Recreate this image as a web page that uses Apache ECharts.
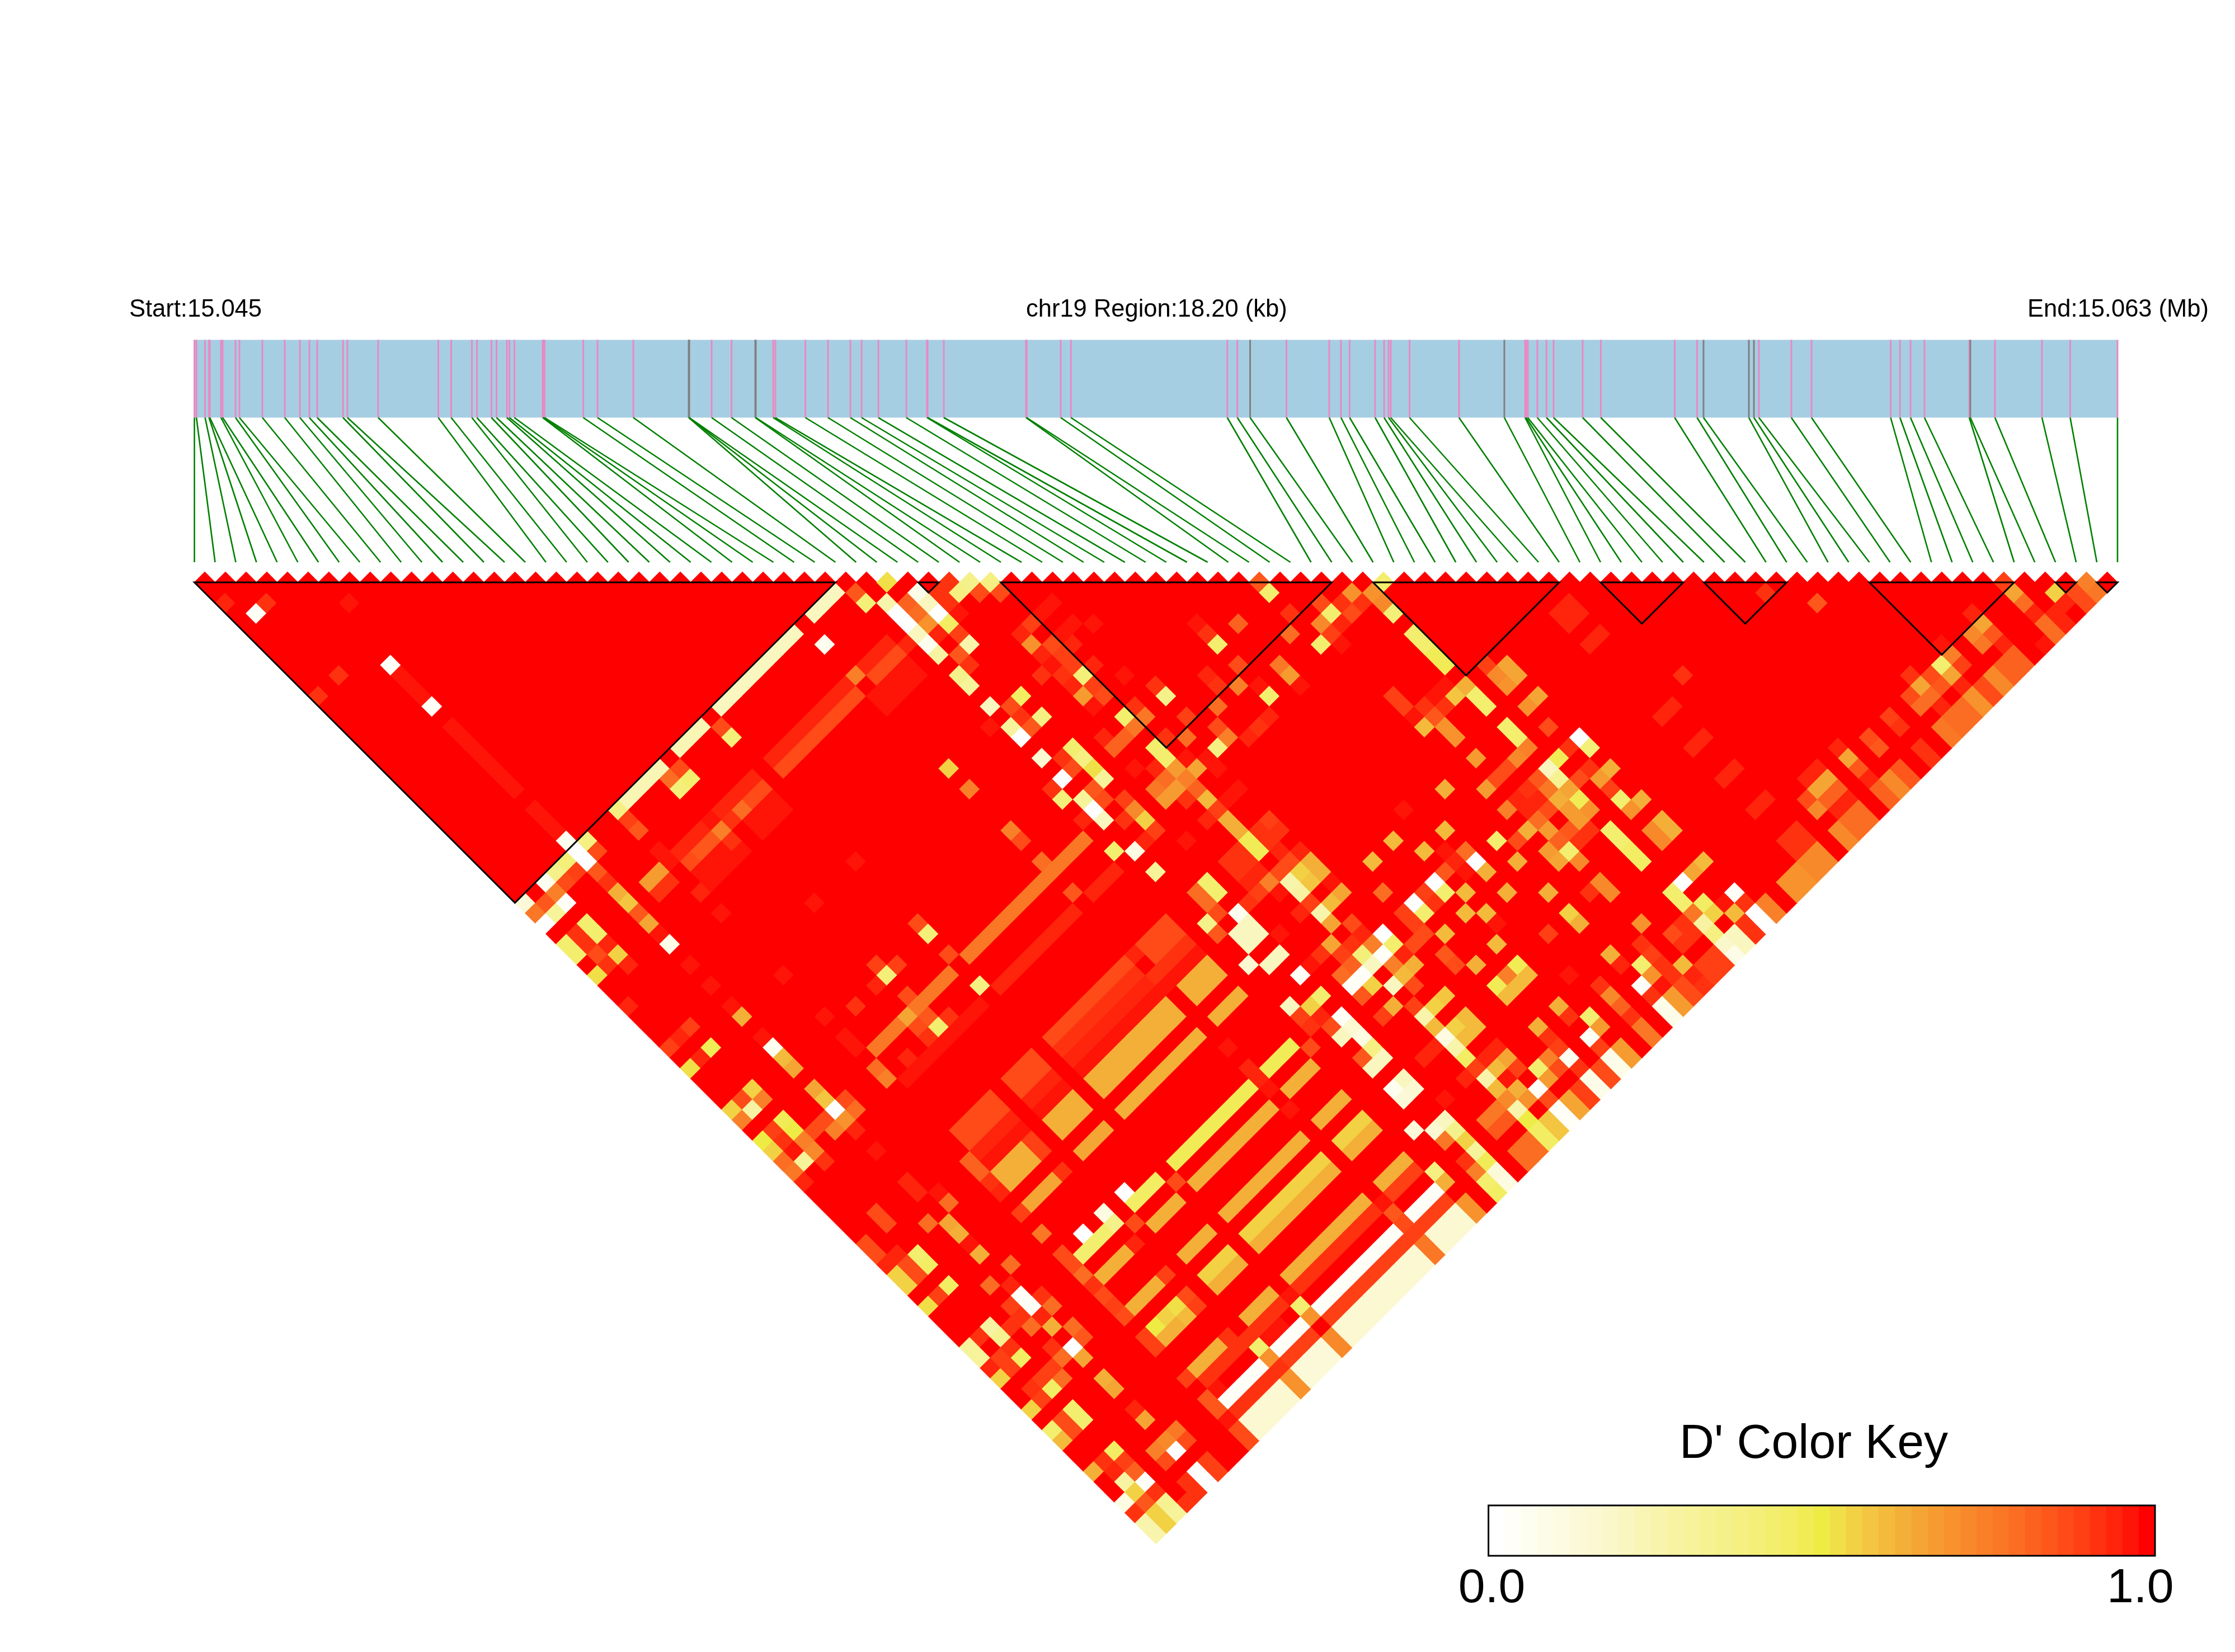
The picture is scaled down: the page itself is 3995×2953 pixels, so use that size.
<!DOCTYPE html>
<html><head><meta charset="utf-8"><style>html,body{margin:0;background:#fff}#c{width:3995px;height:2953px}</style>
<script src="https://cdn.jsdelivr.net/npm/echarts@6/dist/echarts.min.js"></script></head><body><div id="c"></div>
<script>
// SNP positions, kb from the region start
const snpKb=[0,.019,.101,.138,.146,.251,.267,.389,.426,.643,.855,.998,1.088,1.162,1.406,1.448,1.739,2.308,2.43,2.626,2.674,2.811,2.859,2.957,2.981,3.028,3.296,3.304,3.314,3.68,3.815,4.154,4.678,4.681,4.683,4.895,5.083,5.308,5.313,5.477,5.498,5.782,5.996,6.208,6.314,6.473,6.737,6.933,6.939,7.092,7.87,7.876,8.199,8.295,9.775,9.87,9.991,10.335,10.74,10.851,10.933,11.174,11.259,11.301,11.322,11.5,11.968,12.397,12.593,12.603,12.619,12.709,12.796,12.863,13.138,13.31,14.009,14.221,14.282,14.711,14.759,14.806,15.113,15.304,16.053,16.141,16.241,16.373,16.797,16.807,17.04,17.485,17.752,18.2];
const regionKb=18.2;
const greySnps=[32,33,34,37,38,56,67,78,79,80,89];
const blockStarts=[0,35,39,57,68,73,81,90,92];
const blockEnds=[31,36,55,66,72,77,88,91,93];
const headerTexts=["Start:15.045","chr19 Region:18.20 (kb)","End:15.063 (Mb)"];
const keyTitle="D' Color Key";
const keyLabels=["0.0","1.0"];
const keyColors=["#FFFFFF","#FFFFF8","#FEFEF0","#FDFCE8","#FDFBE1","#FCF9D9","#FBF8D2","#FAF7CA","#F9F6BF","#F9F5B5","#F8F4AC","#F7F3A3","#F7F39B","#F6F292","#F5F18A","#F5F081","#F4EF78","#F3EE6E","#F2ED63","#F1EC56","#EFEB45","#F0DF47","#F2D144","#F3C540","#F3BA3C","#F4AF38","#F5A534","#F69B30","#F7922D","#F8892A","#F98028","#FA7725","#FB6D22","#FC621F","#FD571C","#FE4B18","#FF3F14","#FF3210","#FF240C","#FF1408","#FF0000"];
// D' below 1: [iFrom,iTo,jFrom,jTo,value]; every other pair reads as 1
const weakRanges=[[28,30,32,32,.2],[19,26,32,32,.2],[15,17,32,32,.22],[10,13,32,32,.22],[19,30,37,37,.94],[19,30,38,38,.87],[27,30,39,40,.97],[15,17,37,37,.95],[15,17,39,40,.97],[10,13,39,40,.98],[19,30,56,56,.77],[10,17,56,56,.77],[19,26,59,59,.96],[28,30,59,59,.96],[10,17,59,59,.97],
[19,26,64,64,.88],[19,26,65,65,.93],[19,26,66,66,.95],[19,26,67,67,.97],[19,26,68,69,.63],[19,26,71,71,.63],[28,30,64,65,.88],[28,30,66,66,.93],[28,30,67,67,.97],[28,30,68,69,.63],[28,30,71,71,.63],[15,17,64,65,.88],[15,17,66,66,.95],[15,17,67,67,.97],[15,17,68,69,.63],[15,17,71,71,.65],[10,13,64,65,.88],[10,13,66,66,.95],[10,13,67,67,.97],[10,12,68,69,.63],[13,13,68,69,.9],[10,12,71,71,.65],
[19,26,76,76,.47],[28,30,76,76,.47],[10,12,76,76,.43],[15,17,76,76,.44],[19,26,78,78,.62],[28,30,78,78,.62],[15,17,78,78,.62],[10,12,78,78,.62],[19,26,81,81,.62],[28,30,81,81,.62],[15,17,81,81,.62],[10,12,81,81,.62],[19,26,83,83,.55],[28,30,83,83,.55],[15,17,83,83,.55],[19,26,84,84,.62],[28,30,84,84,.62],[15,17,84,84,.62],
[19,26,87,87,.62],[28,30,87,87,.62],[15,17,87,87,.62],[10,12,87,87,.62],[19,26,88,88,.92],[28,30,88,88,.9],[15,17,88,88,.92],[10,13,88,88,.92],[19,26,90,90,.03],[28,30,90,90,.03],[15,17,90,90,.03],[10,13,90,90,.03],[19,26,91,91,.9],[27,30,91,91,.9],[15,17,91,91,.9],[10,14,91,91,.92],[19,26,92,93,.14],[28,30,92,93,.14],[15,17,92,93,.13],[10,13,92,93,.14],[14,14,92,93,.7],[18,18,92,93,.72],[27,27,92,93,.77],[31,31,92,93,.7],[9,9,92,93,.87],[6,6,92,93,.9],[5,5,28,30,.97],[5,5,20,26,.98],[5,5,15,17,.97],[64,65,68,69,.94],[64,65,71,71,.95],[64,65,78,78,.94],[64,65,81,81,.94],[64,65,84,84,.94],[64,65,87,87,.94]];
const weakCells=[[1,5,.03],[0,3,.95],[2,5,.93],[6,9,.97],[5,14,.03],[5,18,.03],[2,12,.93],[0,12,.93],
[33,34,.52],[36,37,.93],[37,38,.36],[38,39,.37],[51,52,.85],[57,58,.42],[87,88,.9],[91,92,.75],
[31,33,.85],[34,36,.07],[36,38,.37],[37,39,.88],[38,40,.87],[31,34,.4],[34,37,.2],[34,38,0],[34,39,.45],[34,40,.9],[34,41,.25],[35,37,.93],[35,38,.93],[35,39,.98],[33,36,.82],[33,37,.8],[33,38,.7],[33,39,.95],[33,41,.85],[33,42,.92],[32,35,.25],[32,36,0],[32,37,0],[32,38,.2],[32,39,.05],[32,40,.28],[32,42,.35],[32,43,.3],[31,38,.95],
[9,32,.37],[9,33,.9],[9,34,.85],[6,32,.38],[5,31,.05],[5,32,0],[5,33,0],[6,33,.88],[5,34,.85],[5,35,.93],[5,36,.62],[5,37,.58],[5,38,.85],[5,39,.65],[5,40,.97],[5,41,.08],[4,33,.9],[4,32,.4],[3,32,.35],[2,32,.05],[2,33,.75],[3,33,.88],[2,34,.03],[1,34,.3],[1,33,.85],[0,32,.12],[0,33,.78],[0,34,0],[0,36,.42],[0,37,.42],[1,36,.93],[2,36,.42],[2,37,.42],[1,37,.93],[1,38,.88],[2,38,.95],[2,39,.55],[2,40,.95],[1,39,.93],[0,39,.52],[5,26,.98],
[27,34,.05],[18,33,.88],[18,34,.4],[14,33,.88],[13,33,.8],[14,34,.42],[13,34,.4],[9,36,.97],[9,37,.97],[8,37,.68],[7,37,.68],[8,38,.93],[7,38,.93],[9,40,.96],[9,42,.98],[27,37,.75],[27,38,1],[31,38,.95],[17,38,.87],[16,38,.87],[15,38,.8],[14,38,.93],[14,37,.95],[13,38,.75],[13,37,.97],[12,37,.95],[11,37,.95],[10,37,.95],[12,38,.85],[11,38,.85],[10,38,.87],[13,39,.93],
[27,46,.55],[27,48,.75],[31,46,.98],[32,45,.2],[34,46,.45],[33,46,.87],[32,47,.3],[32,48,0],[33,48,.85],[34,48,.38],[33,47,.93],[32,50,.15],[34,51,.42],[34,52,.38],[34,53,.53],[33,51,.93],[33,52,.87],[32,52,0],[31,52,.93],[31,53,.4],[32,54,.3],[32,55,0],[32,56,.2],[31,55,.95],[34,54,.3],[33,54,.85],[33,55,.87],[31,58,.42],[27,52,.75],[27,53,.87],[27,55,.8],[27,58,.85],[18,55,.88],[18,52,.87],[18,53,.4],[18,58,.38],[14,52,.9],[15,53,.9],[14,53,.4],[13,53,.95],[14,55,.87],[18,46,.985],[14,46,.985],[5,43,.98],[5,45,.98],[9,48,.98],[0,42,.95],[5,47,.98],[11,53,.92],
[40,43,.97],[39,43,.97],[38,43,.9],[37,43,.95],[37,44,.7],[37,45,.96],[38,45,.88],[39,45,.97],[40,45,.98],[41,46,.98],[39,46,.95],[38,46,.9],[38,47,.9],[39,48,.95],[37,46,.97],[36,46,.93],[37,47,.93],[38,48,.4],[37,48,.95],[37,49,.68],[37,50,.97],[38,50,.87],[38,49,.9],[35,47,.99],[36,52,.95],[36,53,.82],
[51,53,.42],[55,57,.7],[56,58,.7],[54,57,.93],[55,58,.93],[56,59,.72],[53,56,.88],[53,57,.43],[54,58,.87],[56,60,.4],[51,55,.93],[48,53,.82],[52,57,.72],[53,58,.96],[46,51,.98],[50,56,.8],[52,58,.9],[46,52,.92],[46,53,.42],[51,58,.42],[52,59,.97],[56,62,.42],[56,63,.42],[56,64,.47],[56,65,.47],
[58,67,.9],[59,68,.65],[59,69,.65],[58,68,.72],[58,69,.7],[56,67,.62],[55,67,.58],[56,68,.42],[56,69,.42],[55,66,.97],[54,66,.97],[54,67,.93],[53,66,.92],[53,67,.85],[52,66,.97],[52,64,.9],[52,65,.9],[52,67,.6],[53,68,.7],[53,69,.7],[59,71,.65],[58,71,.7],[56,71,.42],[56,72,.42],[56,73,.75],[55,73,.72],[54,73,.87],[53,73,.87],[52,73,.68],[58,73,.88],[59,75,0],[59,76,.4],[58,75,.93],[57,75,.48],[56,75,.2],[56,76,.33],[56,77,.65],[56,78,.47],[56,79,.7],[58,77,.93],[57,77,.88],[59,78,.62],[58,78,.68],[58,79,.9],[58,80,.42],[59,81,.62],[58,81,.7],[55,75,.85],[54,75,.92],[53,75,.95],[55,76,.78],[53,76,.95],[54,76,.95],[54,77,.87],[55,77,.62],[55,78,.68],[52,75,.75],[52,77,.62],[53,77,.8],[53,78,.68],[55,79,.68],[54,79,.85],[53,79,.82],[54,80,.92],[55,80,.93],[52,79,.68],[53,80,.42],[52,80,.65],[53,81,.72],[56,81,.42],[56,82,.42],[56,83,.46],[56,84,.46],[58,83,.72],[59,83,.63],[58,84,.72],[59,84,.63],[50,78,.62],[50,76,.42],[51,77,.87],
[48,75,.8],[48,76,0],[48,77,.62],[47,75,.95],[47,74,.97],[47,76,.97],[46,75,.85],[48,73,.6],[46,73,.6],[45,71,.6],[43,71,.6],[47,70,.98],[50,71,.62],[53,71,.68],[45,75,0],[45,76,.42],[46,77,.6],[44,75,.9],[44,76,.93],[43,75,0],[43,76,.43],[42,73,.8],[42,75,.9],[42,76,.9],[42,77,.87],[43,78,.6],[42,79,.85],[42,80,.88],[45,78,.6],[46,79,.6],[46,80,.97],[45,81,.6],[43,81,.62],[48,79,.62],[50,81,.62],[50,83,.55],[50,84,.62],[53,83,.72],[52,83,.92],[53,84,.72],[53,87,.7],[48,83,.9],[47,86,.98],[50,87,.62],[50,88,.95],[52,88,.93],[52,89,.9],[51,89,.42],[51,90,.7],[50,90,.02],[48,88,.93],[48,89,.72],[48,90,.82],[48,91,.93],[50,91,.92],[45,83,.47],[44,83,.75],[45,84,.6],[44,84,.6],[43,83,.48],[43,84,.6],
[40,50,.97],[41,52,.92],[41,53,.35],[39,52,.93],[38,52,.42],[39,53,.78],[38,53,.78],[37,53,.82],[39,55,.93],[41,55,.9],[40,56,.8],[38,55,.42],[38,56,.43],[36,55,.97],[37,56,.95],[38,57,.68],[39,58,.65],[39,57,.97],[40,59,.97],[40,58,.97],[42,58,.75],[41,58,.38],[42,57,.88],[43,59,.96],[44,59,.93],[45,59,.96],[43,56,.8],[45,56,.75],[44,55,.93],[44,54,.95],[46,55,.88],[46,57,.97],[46,58,.42],[48,57,.78],[48,58,.68],[48,59,.97],[50,59,.99],[37,57,.8],[36,57,.78],[37,58,.68],[36,58,.68],[38,58,.75],[38,59,.82],[37,59,.93],[38,60,.6],[40,61,.97],[39,61,.97],[38,61,.9],[37,61,.95],[34,56,.9],[34,57,.72],[34,58,.55],[34,59,.9],[33,57,.92],[33,59,.95],[32,59,.1],[32,61,.3],[35,61,.98],
[38,62,.62],[38,63,.62],[38,64,.47],[38,65,.48],[40,64,.9],[40,65,.93],[39,64,.93],[39,65,.92],[40,67,.95],[40,68,.62],[40,69,.62],[39,67,.88],[39,68,.55],[39,69,.58],[39,66,.95],[37,64,.93],[36,64,.93],[37,65,.93],[36,65,.93],[37,66,.95],[36,66,.95],[37,67,.75],[38,67,.88],[38,68,.25],[38,69,.27],[37,68,.97],[40,71,.65],[40,70,.97],[39,71,.6],[38,70,.9],[38,71,.25],[37,70,.95],[38,72,.65],[39,73,.87],[34,64,.42],[34,65,.42],[33,64,.8],[33,65,.8],[33,66,.88],[32,66,.35],[32,67,.85],[34,67,.05],[34,68,.2],[34,69,.2],[33,68,.2],[33,69,.2],[35,70,.97],[36,67,.9],[35,67,.92],[32,70,.15],[34,71,.2],[33,71,.2],[34,73,.03],[36,73,.92],[37,73,.65],[37,74,.9],[37,75,.82],[38,75,.4],[39,75,.75],[40,75,0],[40,76,.42],[39,76,.03],[38,76,.2],[37,76,.02],[36,76,.02],[37,77,.55],[39,77,.75],[40,77,.95],[41,77,.88],[40,78,.62],[39,78,.6],[38,78,.2],[39,79,.88],[38,74,.92],[39,74,.95],[35,73,.98],[34,75,.42],[36,75,.8],[36,77,.85],[40,81,.58],
[0,90,.1],[0,91,.93],[0,92,.25],[0,93,.25],[1,93,.55],[1,92,.55],[2,93,.3],[2,92,.33],[2,91,.92],[1,91,.85],[1,90,.55],[1,89,.28],[2,90,.03],[2,89,.82],[2,88,.9],[4,92,.92],[4,93,.92],[3,93,.92],[5,92,0],[5,93,0],[5,90,0],[5,89,.72],[4,89,.75],[4,90,.88],[6,90,.88],[6,89,.78],[5,87,.65],[5,86,.95],[14,89,.42],[14,90,.7],[15,89,.97],[16,89,.97],[18,89,.42],[18,90,.7],[18,88,.98],[14,88,.92],[9,87,.9],[13,87,.92],[10,89,.98],[9,89,.85],[9,90,.85],[27,89,.85],[27,90,.88],[27,88,.97],[31,90,.62],[31,89,.38],[31,77,.87],[27,73,.97],[27,75,.95],[27,76,.95],[27,77,.97],[27,79,.97],[18,77,.87],[17,78,.62],[14,77,.88],[13,78,.95],[13,81,.9],[9,81,.88],[13,83,.87],[13,84,.9],[12,83,.52],[11,83,.55],[10,83,.5],[12,84,.6],[11,84,.62],[10,84,.62],[9,83,.9],[9,84,.9],
[33,83,.05],[34,83,.2],[33,84,.12],[34,84,.15],[35,86,.97],[32,86,.12],[33,87,.15],[34,87,.2],[34,88,.35],[34,89,.55],[34,90,.3],[34,91,.48],[34,92,.12],[34,93,.1],[33,88,.78],[33,90,.92],[33,91,.75],[33,92,.42],[33,93,.45],[36,92,.8],[37,92,.8],[36,93,.8],[37,93,.8],[38,93,.45],[38,92,.45],[38,91,.5],[38,90,.25],[39,93,.57],[39,92,.57],[40,93,.03],[40,92,.03],[40,91,.88],[41,93,.65],[41,92,.65],[42,93,.9],[42,92,.9],[42,89,.75],[43,93,.08],[43,92,.08],[44,93,.87],[44,92,.87],[45,93,.08],[45,92,.08],[46,93,.68],[46,92,.68],[48,92,.77],[48,93,.77],[50,92,.07],[50,93,.07],[51,92,.68],[51,93,.68],[52,92,.88],[52,93,.88],
[32,74,.2],[32,75,.9],[33,75,.55],[32,76,.93],[33,76,.95],[33,77,.88],[34,77,.03],[34,78,.15],[33,78,.2],[34,79,.1],[34,80,.38],[34,81,.2],[33,81,.2],[33,80,.85],[37,79,.62],[38,81,.25],[38,80,.9],[36,79,.9],[39,81,.55],[38,82,.6],[38,83,.1],[38,84,.25],[38,85,.45],[39,83,.55],[40,83,.6],[40,84,.6],[39,84,.6],[36,83,.95],[37,83,.95],[37,86,.95],[38,87,.25],[38,88,.6],[38,86,.9],[40,86,.95],[39,86,.95],[40,87,.65],[39,87,.6],[40,88,.9],[39,88,.97],[39,89,.62],[36,89,.78],[37,89,.78],[38,89,.72],[36,90,.85],[37,90,.85],[39,90,.7],[40,90,.02],[41,90,.68],[41,89,.42],[42,90,.88],[43,90,.05],[43,89,.9],[43,91,.92],[45,87,.62],[45,88,.92],[43,87,.62],[43,88,.92],[46,89,.42],[46,90,.68],[45,90,.02],[45,91,.9],
[77,80,.85],[75,77,.93],[67,77,.93],[87,89,.65],[87,90,.8],[87,91,.95],[89,91,.55],[89,92,.95],[90,92,.87],[90,93,.87],[91,93,.78],[88,92,.95],[88,93,.95],[87,92,.8],[87,93,.8],[86,93,.98],[84,88,.95],[84,89,.65],[83,89,.72],[84,90,.85],[83,90,.78],[84,91,.95],[84,92,.82],[84,93,.82],[83,92,.82],[83,93,.82],[82,92,.72],[82,93,.72],[81,92,.88],[81,93,.88],[81,90,.9],[81,89,.75],[81,88,.97],[80,89,.42],[80,90,.65],[80,91,.95],[79,89,.87],[79,90,.85],[78,89,.65],[78,88,.93],[77,89,.87],[77,90,.8],[78,90,.8],[78,91,.95],[80,92,.7],[80,93,.7],[79,92,.8],[79,93,.8],[78,92,.8],[78,93,.8],[77,92,.77],[77,93,.77],[75,89,.9],[75,90,.93],[73,89,.87],[73,90,.85],[75,92,.93],[75,93,.93],[71,88,.95],[71,89,.65],[71,90,.85],[71,91,.95],[73,92,.85],[73,93,.85],[72,92,.72],[72,93,.72],[71,92,.82],[71,93,.82],[69,88,.95],[69,89,.65],[68,88,.95],[68,89,.65],[69,90,.82],[68,90,.82],[69,91,.95],[68,91,.95],[69,92,.8],[68,92,.8],[69,93,.8],[68,93,.8],[67,89,.87],[67,90,.72],[67,92,.72],[67,93,.72],[65,90,.93],[64,90,.93],[65,91,.93],[64,91,.93],[65,92,.72],[64,92,.72],[65,93,.72],[64,93,.72],[63,92,.7],[62,92,.7],[63,93,.7],[62,93,.7],[60,92,.75],[60,93,.75],[59,92,0],[59,93,0],[58,92,.93],[58,93,.93],[59,91,.93],[58,91,.6],[59,90,.03],[57,92,.2],[56,92,.17],[57,93,.2],[56,93,.08],[56,90,.28],[56,91,.38],[56,89,.78],[57,89,.45],[57,90,.55],[56,88,.42],[56,87,.42],[57,87,0],[58,87,.65],[59,87,.6],[58,90,.98],[53,91,.6],[54,89,.87],[54,90,.93],[55,89,.92],[55,90,.93],[55,92,.9],[54,92,.9],[55,93,.9],[54,93,.9],[53,92,.95],[53,93,.92],[51,91,.98],[52,91,.92],[52,90,.92],
[0,46,.9],[2,46,.9],[1,46,.95],[2,48,.48],[1,48,.95],[0,48,.52],[5,48,.62],[5,50,.98],[5,51,.05],[5,52,.6],[5,53,.65],[9,52,.97],[14,58,.42],[14,57,.85],[13,57,.87],[13,58,.93],[15,58,.92],[13,56,.65],[9,54,.98],[9,55,.97],[9,57,.8],[9,58,.75],[11,58,.95],
[2,52,.55],[1,52,.88],[0,52,.55],[2,53,.75],[1,53,.28],[0,53,.75],[2,55,.48],[2,56,.5],[1,55,.9],[1,56,.92],[0,55,.5],[0,56,.55],[2,57,.75],[1,57,.97],[2,58,.72],[1,58,.3],[2,59,.93],[0,57,.8],[0,58,.78],[0,59,.95],[5,55,.65],[5,56,.57],[5,57,0],[5,58,.7],[6,58,.8],[6,57,.87],[5,59,.95],[4,58,.75],[4,57,.87],[3,57,.88],[5,61,.97],[5,64,.95],[5,65,.95],[6,66,.97],[6,67,.8],[4,67,.8],[5,68,.65],[5,69,.63],[5,70,.97],[5,71,.62],[2,64,.88],[2,65,.88],[0,65,.87],[0,66,.87],[1,67,.95],[0,67,.95],[2,68,.42],[2,69,.45],[1,68,.88],[1,69,.88],[0,68,.55],[0,69,.55],[2,71,.45],[1,71,.9],[0,71,.52],[6,73,.8],[4,73,.8],[5,74,.95],[5,75,.02],[5,76,.03],[4,75,.9],[4,76,.92],[4,77,.8],[6,76,.92],[6,77,.8],[5,77,.95],[5,78,.62],[6,79,.8],[6,80,.85],[4,80,.8],[5,80,0],[5,81,.65],[4,79,.93],[2,75,.28],[2,76,.32],[1,75,.93],[3,76,.93],[2,78,.45],[2,77,.92],[1,77,.9],[1,78,.9],[0,75,.3],[0,76,.3],[0,77,.95],[0,78,.55],[3,81,.8],[3,80,.9],[2,80,.9],[1,80,.93],[2,81,.45],[1,81,.9],[0,81,.55],[2,83,.42],[2,84,.42],[1,83,.87],[1,84,.87],[0,83,.42],[0,84,.6],[5,83,.62],[5,84,.65],[2,87,.45],[1,87,.92],[0,87,.62],[1,88,.95],
[9,66,.82],[9,67,.82],[9,68,.92],[9,69,.95],[13,71,.92],[9,71,.9],[9,73,.77],[15,75,0],[13,75,.1],[13,76,.35],[11,75,0],[9,75,.87],[9,76,.88],[9,77,.8],[9,78,.92],[9,79,.88],[9,80,.9],[9,91,.98],[27,64,.96],[27,66,.93],[27,67,.97]];

const N=snpKb.length;
const dPrime=[];
for(let i=0;i<N;i++){dPrime.push(new Array(N).fill(1));}
weakRanges.forEach(r=>{for(let i=r[0];i<=r[1];i++)for(let j=r[2];j<=r[3];j++)dPrime[i][j]=r[4];});
weakCells.forEach(c=>{dPrime[c[0]][c[1]]=c[2];});
const cellData=[];
for(let i=0;i<N;i++)for(let j=i+1;j<N;j++)cellData.push([i,j,dPrime[i][j]]);
const colorOf=v=>keyColors[Math.round(v*(keyColors.length-1))];

// depth coordinates of the track, in cell units below the diamond row
const BAR_TOP=-11.729,BAR_BOTTOM=-7.968,LINK_END=-0.974,DEPTH_MAX=47;

const chart=echarts.init(document.getElementById('c'),null,{renderer:'canvas'});
const axisOff={show:false};
const headStyle={fontFamily:'Liberation Sans',fontSize:43.5,fontWeight:'normal',color:'#000'};
chart.setOption({
 animation:false,backgroundColor:'#fff',
 title:[
  {text:headerTexts[0],left:231,top:532,padding:0,textStyle:headStyle},
  {text:headerTexts[1],left:1834,top:532,padding:0,textStyle:headStyle},
  {text:headerTexts[2],left:3624,top:532,padding:0,textStyle:headStyle},
  {text:keyTitle,left:3002,top:2539,padding:0,textStyle:{fontFamily:'Liberation Sans',fontSize:86,fontWeight:'normal',color:'#000'}}
 ],
 grid:[
  {left:347.5,width:3437.5,top:607.5,height:(DEPTH_MAX-BAR_TOP)*36.96},
  {left:2660.6,width:1191.4,top:2691,height:90}
 ],
 xAxis:[
  {gridIndex:0,type:'value',min:0,max:N-1,...axisOff},
  {gridIndex:0,type:'value',min:0,max:regionKb,...axisOff},
  {gridIndex:1,type:'value',min:0,max:1,axisLine:{show:false},axisTick:{show:false},splitLine:{show:false},
   axisLabel:{show:true,customValues:[0.005,0.978],margin:16,fontFamily:'Liberation Sans',fontSize:86,color:'#000',formatter:v=>v<.5?keyLabels[0]:keyLabels[1]}}
 ],
 yAxis:[
  {gridIndex:0,type:'value',inverse:true,min:BAR_TOP,max:DEPTH_MAX,...axisOff},
  {gridIndex:1,type:'value',min:0,max:1,...axisOff}
 ],
 series:[
  {type:'custom',xAxisIndex:1,yAxisIndex:0,z:1,silent:true,data:[[0,regionKb]],renderItem(p,api){
    const a=api.coord([api.value(0),BAR_TOP]),b=api.coord([api.value(1),BAR_BOTTOM]);
    return {type:'rect',shape:{x:a[0],y:a[1],width:b[0]-a[0],height:b[1]-a[1]},style:{fill:'#A6CEE3'}};}},
  {type:'custom',xAxisIndex:1,yAxisIndex:0,z:2,silent:true,data:snpKb.map((k,i)=>[k,i]),renderItem(p,api){
    const a=api.coord([api.value(0),BAR_TOP]),b=api.coord([api.value(0),BAR_BOTTOM]);
    return {type:'line',shape:{x1:a[0],y1:a[1],x2:b[0],y2:b[1]},style:{stroke:greySnps.includes(api.value(1))?'#808080':'#E78AC3',lineWidth:3}};}},
  {type:'custom',xAxisIndex:0,yAxisIndex:0,z:3,silent:true,data:snpKb.map((k,i)=>[k/regionKb*(N-1),i]),renderItem(p,api){
    const a=api.coord([api.value(0),BAR_BOTTOM]),b=api.coord([api.value(1),LINK_END]);
    return {type:'line',shape:{x1:a[0],y1:a[1],x2:b[0],y2:b[1]},style:{stroke:'#008000',lineWidth:2.6}};}},
  {type:'custom',xAxisIndex:0,yAxisIndex:0,z:4,silent:true,progressive:0,data:cellData,renderItem(p,api){
    const i=api.value(0),j=api.value(1),c=(i+j)/2,d=(j-i-1)/2,col=colorOf(api.value(2));
    return {type:'polygon',shape:{points:[api.coord([c,d-.5]),api.coord([c+.5,d]),api.coord([c,d+.5]),api.coord([c-.5,d])]},style:{fill:col,stroke:col,lineWidth:1.2}};}},
  {type:'custom',xAxisIndex:0,yAxisIndex:0,z:5,silent:true,data:blockStarts.map((s,k)=>[s,blockEnds[k]]),renderItem(p,api){
    const s=api.value(0),e=api.value(1);
    return {type:'polygon',shape:{points:[api.coord([s,0]),api.coord([e,0]),api.coord([(s+e)/2,(e-s)/2])]},style:{fill:'none',stroke:'#000',lineWidth:3,lineJoin:'miter'}};}},
  {type:'custom',xAxisIndex:2,yAxisIndex:1,z:6,silent:true,data:keyColors.map((c,k)=>[k]),renderItem(p,api){
    const k=api.value(0),n=keyColors.length,a=api.coord([k/n,1]),b=api.coord([(k+1)/n,0]);
    return {type:'rect',shape:{x:a[0],y:a[1],width:b[0]-a[0]+.5,height:b[1]-a[1]},style:{fill:keyColors[k]}};}},
  {type:'custom',xAxisIndex:2,yAxisIndex:1,z:7,silent:true,data:[[0]],renderItem(p,api){
    const a=api.coord([0,1]),b=api.coord([1,0]);
    return {type:'rect',shape:{x:a[0],y:a[1],width:b[0]-a[0],height:b[1]-a[1]},style:{fill:'none',stroke:'#000',lineWidth:3}};}}
 ]
});
</script></body></html>
